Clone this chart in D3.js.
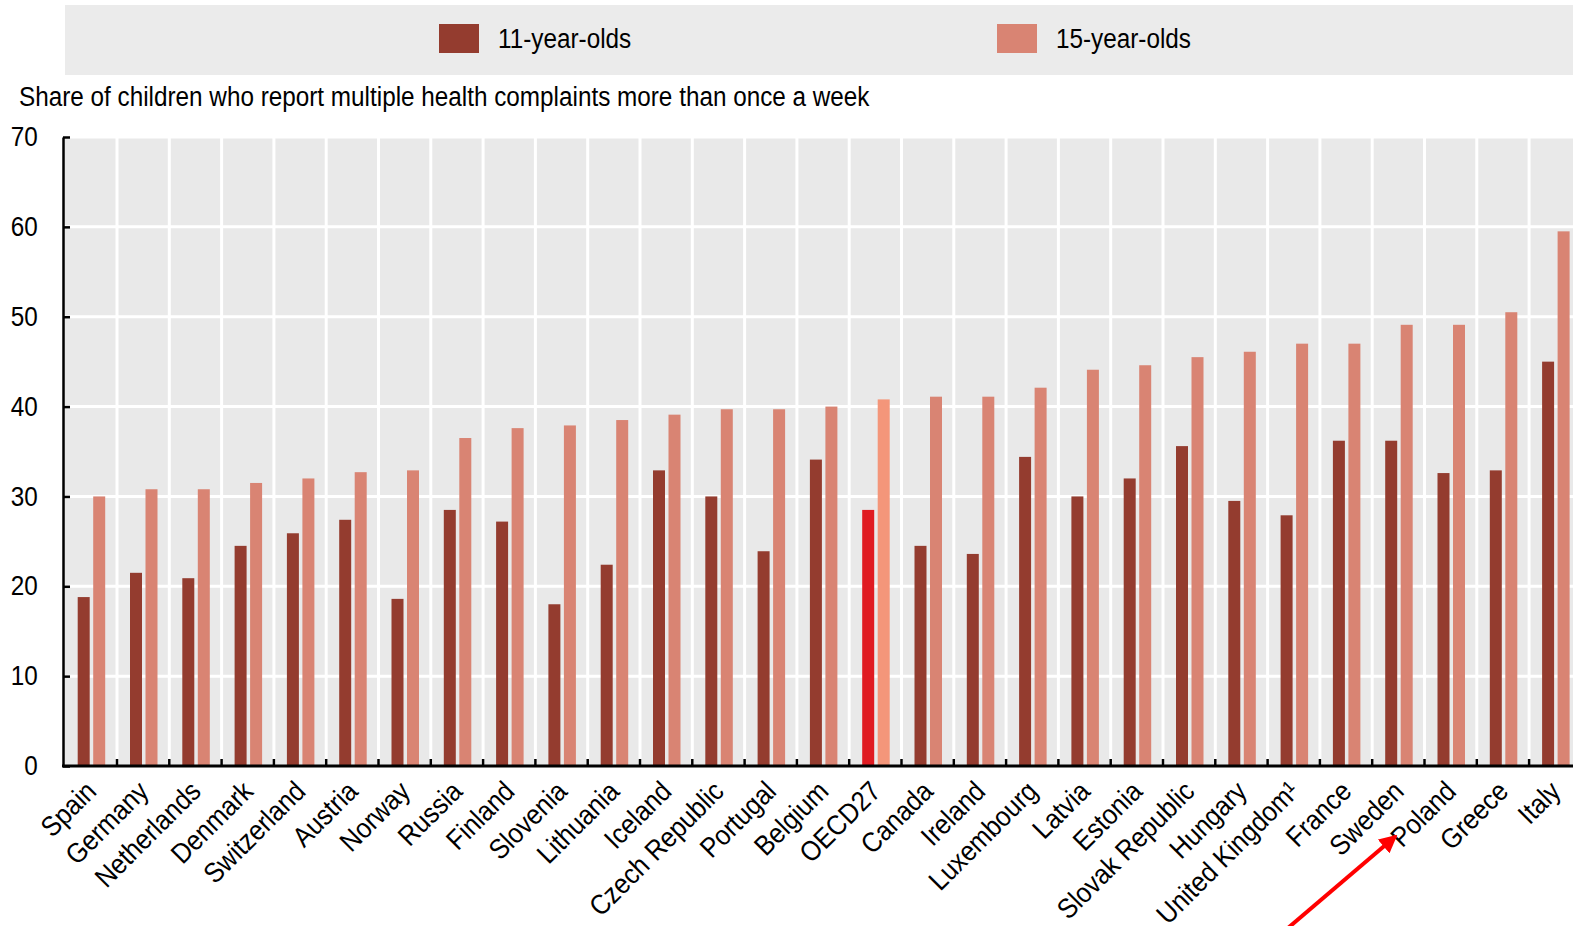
<!DOCTYPE html>
<meta charset="utf-8">
<style type="text/css">
    body { margin: 0; background: #fff; }
    svg text { font-family: "Liberation Sans", Arial, sans-serif; fill: #000; }
</style>
<svg id="chart" width="1573" height="926"></svg>
<script src="https://cdn.jsdelivr.net/npm/d3@7/dist/d3.min.js" type="text/javascript"></script>
<script type="text/javascript">
    var countries = ["Spain", "Germany", "Netherlands", "Denmark", "Switzerland", "Austria", "Norway", "Russia",
        "Finland", "Slovenia", "Lithuania", "Iceland", "Czech Republic", "Portugal", "Belgium", "OECD27",
        "Canada", "Ireland", "Luxembourg", "Latvia", "Estonia", "Slovak Republic", "Hungary", "United Kingdom\u00b9",
        "France", "Sweden", "Poland", "Greece", "Italy"];
    var age11 = [18.8, 21.5, 20.9, 24.5, 25.9, 27.4, 18.6, 28.5, 27.2, 18.0, 22.4, 32.9, 30.0, 23.9, 34.1, 28.5,
        24.5, 23.6, 34.4, 30.0, 32.0, 35.6, 29.5, 27.9, 36.2, 36.2, 32.6, 32.9, 45.0];
    var age15 = [30.0, 30.8, 30.8, 31.5, 32.0, 32.7, 32.9, 36.5, 37.6, 37.9, 38.5, 39.1, 39.7, 39.7, 40.0, 40.8,
        41.1, 41.1, 42.1, 44.1, 44.6, 45.5, 46.1, 47.0, 47.0, 49.1, 49.1, 50.5, 59.5];
    var seriesNames = ["11-year-olds", "15-year-olds"];
    var yTicks = [0, 10, 20, 30, 40, 50, 60, 70];

    var colors = { dark: "#943c2f", light: "#d98473", oecdDark: "#e01b22", oecdLight: "#f4967a" };

    var W = 1573;
    var svg = d3.select("#chart");
    // the original figure is cropped on the right, so the band range runs past the picture edge
    var mLeft = 63, mTop = 137, mBottom = 766;
    var bandStart = 64.7, step = 52.3;
    var squeeze = "scale(0.9,1)"; // narrow-ish look of the original font

    var x = d3.scaleBand().domain(countries).range([bandStart, bandStart + step * countries.length]);
    var x1 = d3.scaleBand().domain([0, 1]).range([13, 40.5]).paddingInner(0.226);
    var y = d3.scaleLinear().domain([0, 70]).range([mBottom, mTop]);

    // legend band
    svg.append("rect").attr("x", 65).attr("y", 5).attr("width", W - 65).attr("height", 70).attr("fill", "#ebebeb");
    var legendX = [439, 997];
    seriesNames.forEach(function (name, i) {
        svg.append("rect").attr("x", legendX[i]).attr("y", 24).attr("width", 40).attr("height", 29)
            .attr("fill", i == 0 ? colors.dark : colors.light);
        svg.append("text").attr("transform", "translate(" + (legendX[i] + 59) + ",48) " + squeeze)
            .attr("font-size", 27).text(name);
    });

    svg.append("text").attr("transform", "translate(19,106) " + squeeze).attr("font-size", 27)
        .text("Share of children who report multiple health complaints more than once a week");

    // plot background and grid
    svg.append("rect").attr("x", mLeft).attr("y", mTop).attr("width", W - mLeft).attr("height", mBottom - mTop)
        .attr("fill", "#e9e9e9");
    svg.append("g").selectAll("line").data(yTicks.slice(1)).join("line")
        .attr("x1", mLeft).attr("x2", W).attr("y1", d => y(d)).attr("y2", d => y(d))
        .attr("stroke", "#fff").attr("stroke-width", 3);
    svg.append("g").selectAll("line").data(countries.slice(1)).join("line")
        .attr("x1", d => x(d)).attr("x2", d => x(d)).attr("y1", mTop).attr("y2", mBottom)
        .attr("stroke", "#fff").attr("stroke-width", 3);

    // bars
    var g = svg.append("g");
    countries.forEach(function (c, i) {
        var isOecd = c == "OECD27";
        [age11[i], age15[i]].forEach(function (v, j) {
            var col = j == 0 ? (isOecd ? colors.oecdDark : colors.dark) : (isOecd ? colors.oecdLight : colors.light);
            g.append("rect")
                .attr("x", x(c) + x1(j)).attr("width", x1.bandwidth())
                .attr("y", y(v)).attr("height", y(0) - y(v))
                .attr("fill", col);
        });
    });

    // y axis, ticks pointing inward
    var yAxis = d3.axisLeft(y).tickValues(yTicks).tickSizeInner(-7).tickSizeOuter(0).tickPadding(28);
    var ya = svg.append("g").attr("transform", "translate(" + mLeft + ",0)").call(yAxis);
    ya.select(".domain").attr("stroke", "#000").attr("stroke-width", 2.5);
    ya.selectAll(".tick line").attr("stroke", "#000").attr("stroke-width", 2.5);
    ya.selectAll("text").attr("font-size", 27).attr("font-family", null).attr("fill", "#000")
        .attr("transform", squeeze);

    // x axis
    svg.append("line").attr("x1", mLeft - 1).attr("x2", W).attr("y1", mBottom).attr("y2", mBottom)
        .attr("stroke", "#000").attr("stroke-width", 3);
    svg.append("g").selectAll("line").data(countries.slice(1)).join("line")
        .attr("x1", d => x(d)).attr("x2", d => x(d)).attr("y1", mBottom).attr("y2", mBottom - 7)
        .attr("stroke", "#000").attr("stroke-width", 2.5);
    svg.append("g").selectAll("text").data(countries).join("text")
        .attr("text-anchor", "end").attr("font-size", 28)
        .attr("transform", d => "translate(" + (x(d) + x.bandwidth() / 2 + 7) + "," + (mBottom + 27) + ") rotate(-45) " + squeeze)
        .text(d => d);

    // red arrow pointing at Poland
    svg.append("defs").append("marker").attr("id", "head").attr("viewBox", "0 0 10 10")
        .attr("refX", 9).attr("refY", 5).attr("markerWidth", 4.5).attr("markerHeight", 4.5).attr("orient", "auto")
        .append("path").attr("d", "M0,0 L10,5 L0,10 z").attr("fill", "#ff0000");
    svg.append("line").attr("x1", 1288).attr("y1", 928).attr("x2", 1396).attr("y2", 836)
        .attr("stroke", "#ff0000").attr("stroke-width", 4).attr("marker-end", "url(#head)");
</script>
